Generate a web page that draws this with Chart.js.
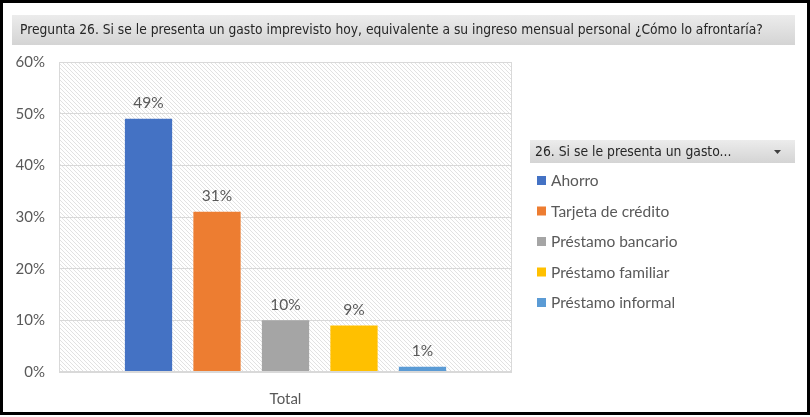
<!DOCTYPE html>
<html>
<head>
<meta charset="utf-8">
<script src="https://cdn.jsdelivr.net/npm/chart.js@4"></script>
<style>
  body { margin: 0; background: #fff; }
  #wrap { width: 810px; height: 417px; position: relative; }
</style>
</head>
<body>
<div id="wrap"><canvas id="chart" width="810" height="417"></canvas></div>
<script>
const categories = ['Total'];
const seriesNames = ['Ahorro', 'Tarjeta de crédito', 'Préstamo bancario', 'Préstamo familiar', 'Préstamo informal'];
const seriesValues = [49, 31, 10, 9, 1];
const seriesColors = ['#4472C4', '#ED7D31', '#A5A5A5', '#FFC000', '#5B9BD5'];
const yTicks = [0, 10, 20, 30, 40, 50, 60];
const titleText = 'Pregunta 26. Si se le presenta un gasto imprevisto hoy, equivalente a su ingreso mensual personal ¿Cómo lo afrontaría?';
const legendTitle = '26. Si se le presenta un gasto...';

const txtFont = 'Lato, "Open Sans", sans-serif';
const headFont = '"DejaVu Sans Condensed", "Liberation Sans Narrow", sans-serif';

// diagonal hatch for the plot area
function makeHatch() {
  const c = document.createElement('canvas');
  c.width = 4; c.height = 4;
  const g = c.getContext('2d');
  g.fillStyle = '#fff';
  g.fillRect(0, 0, 4, 4);
  g.strokeStyle = '#e2e2e2';
  g.lineWidth = 1;
  g.beginPath();
  g.moveTo(-1, -1); g.lineTo(5, 5);
  g.moveTo(-1, 3); g.lineTo(1, 5);
  g.moveTo(3, -1); g.lineTo(5, 1);
  g.stroke();
  return g.createPattern(c, 'repeat');
}

function greyBox(ctx, x, y, w, h) {
  const grad = ctx.createLinearGradient(0, y, 0, y + h);
  grad.addColorStop(0, '#ececec');
  grad.addColorStop(1, '#d4d4d4');
  ctx.fillStyle = grad;
  ctx.fillRect(x, y, w, h);
}

const decor = {
  id: 'decor',
  beforeDraw(chart) {
    const ctx = chart.ctx;
    const a = chart.chartArea;
    ctx.save();
    ctx.fillStyle = '#fff';
    ctx.fillRect(0, 0, chart.width, chart.height);
    ctx.fillStyle = makeHatch();
    ctx.fillRect(a.left, a.top, a.right - a.left, a.bottom - a.top);
    ctx.restore();
  },
  afterDraw(chart) {
    const ctx = chart.ctx;
    const a = chart.chartArea;
    ctx.save();
    // plot border
    ctx.strokeStyle = '#d9d9d9';
    ctx.lineWidth = 1;
    ctx.strokeRect(a.left + 0.5, a.top + 0.5, a.right - a.left - 1, a.bottom - a.top - 1);

    // title box
    greyBox(ctx, 12, 15, 783, 30);
    ctx.fillStyle = '#262626';
    ctx.font = '13.7px ' + headFont;
    ctx.textBaseline = 'middle';
    ctx.textAlign = 'left';
    ctx.fillText(titleText, 20, 30);

    // data labels
    ctx.fillStyle = '#595959';
    ctx.font = '15.5px ' + txtFont;
    ctx.textAlign = 'center';
    ctx.textBaseline = 'bottom';
    chart.data.datasets.forEach((ds, i) => {
      const bar = chart.getDatasetMeta(i).data[0];
      ctx.fillText(ds.data[0] + '%', bar.x, bar.y - 8);
    });

    // legend
    greyBox(ctx, 530, 140, 265, 23);
    ctx.fillStyle = '#262626';
    ctx.font = '13.8px ' + headFont;
    ctx.textAlign = 'left';
    ctx.textBaseline = 'middle';
    ctx.fillText(legendTitle, 535, 152);
    ctx.fillStyle = '#404040';
    ctx.beginPath();
    ctx.moveTo(774, 150); ctx.lineTo(781, 150); ctx.lineTo(777.5, 154);
    ctx.closePath();
    ctx.fill();

    ctx.font = '15.5px ' + txtFont;
    seriesNames.forEach((name, i) => {
      const y = 180 + i * 30.5;
      ctx.fillStyle = seriesColors[i];
      ctx.fillRect(537, y - 4, 9, 9);
      ctx.fillStyle = '#595959';
      ctx.fillText(name, 551, y + 1);
    });

    // outer frame
    ctx.strokeStyle = '#000';
    ctx.lineWidth = 3;
    ctx.strokeRect(1.5, 1.5, chart.width - 3, chart.height - 5);
    ctx.restore();
  }
};

new Chart(document.getElementById('chart'), {
  type: 'bar',
  data: {
    labels: categories,
    datasets: seriesNames.map((name, i) => ({
      label: name,
      data: [seriesValues[i]],
      backgroundColor: seriesColors[i],
      barPercentage: 0.69,
      categoryPercentage: 0.756
    }))
  },
  options: {
    responsive: false,
    animation: false,
    layout: { padding: { left: 0, right: 298, top: 62, bottom: 0 } },
    plugins: {
      legend: { display: false },
      tooltip: { enabled: false }
    },
    scales: {
      x: {
        grid: { display: false },
        border: { display: false },
        ticks: { color: '#595959', font: { family: txtFont, size: 15 }, padding: 10 },
        afterFit(scale) { scale.height = 45; }
      },
      y: {
        min: 0,
        max: 60,
        afterBuildTicks(scale) { scale.ticks = yTicks.map(v => ({ value: v })); },
        grid: { color: '#d9d9d9', drawTicks: false },
        border: { display: false },
        ticks: {
          color: '#595959',
          font: { family: txtFont, size: 15 },
          padding: 14,
          callback: v => v + '%'
        },
        afterFit(scale) { scale.width = 59; }
      }
    }
  },
  plugins: [decor]
});
</script>
</body>
</html>
